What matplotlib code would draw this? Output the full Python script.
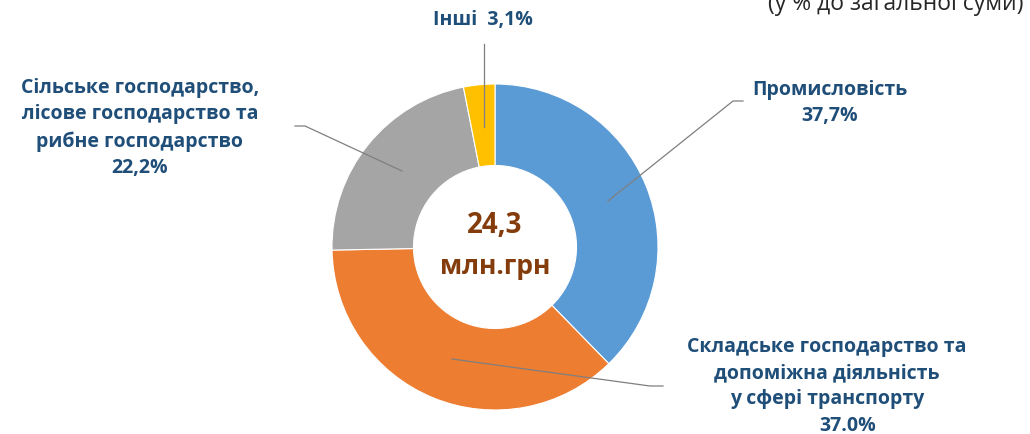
import matplotlib
matplotlib.use('Agg')
import matplotlib.pyplot as plt

# data
sectors = ['Промисловість', 'Складське господарство та\nдопоміжна діяльність\nу сфері транспорту',
           'Сільське господарство,\nлісове господарство та\nрибне господарство', 'Інші']
shares = [37.7, 37.0, 22.2, 3.1]
colors = ['#5B9BD5', '#ED7D31', '#A5A5A5', '#FFC000']

plt.rcParams['font.family'] = ['Open Sans', 'DejaVu Sans']

W, H = 1030, 435
fig = plt.figure(figsize=(W / 100, H / 100), dpi=100)
ax = fig.add_axes([0, 0, 1, 1])

def Y(y):
    # pixel row from top -> data y
    return H - y

cx, cy, r = 495, Y(248), 163
ax.pie(shares, colors=colors, startangle=90, counterclock=False,
       center=(cx, cy), radius=r,
       wedgeprops=dict(width=r * 0.5, edgecolor='white', linewidth=0.8))
ax.set_xlim(0, W)
ax.set_ylim(0, H)
ax.set_aspect('auto')
ax.axis('off')

lab_col = '#1F4E79'
line_col = '#7F7F7F'
fs = 14
ls = 1.42

# centre text
ax.text(cx, Y(226), '24,3', ha='center', va='center', fontsize=20,
        fontweight='bold', color='#843C0C')
ax.text(cx, Y(266), 'млн.грн', ha='center', va='center', fontsize=19,
        fontweight='bold', color='#843C0C')

def pct(v):
    return f'{v:.1f}%'.replace('.', ',')

# labels
ax.text(830, Y(103), f'{sectors[0]}\n{pct(shares[0])}', ha='center', va='center',
        fontsize=fs, fontweight='bold', color=lab_col, linespacing=ls)
ax.text(827, Y(373), sectors[1], ha='center', va='center',
        fontsize=fs, fontweight='bold', color=lab_col, linespacing=ls)
ax.text(848, Y(426), f'{shares[1]:.1f}%', ha='center', va='center',
        fontsize=fs, fontweight='bold', color=lab_col)
ax.text(140, Y(128), f'{sectors[2]}\n{pct(shares[2])}', ha='center', va='center',
        fontsize=fs, fontweight='bold', color=lab_col, linespacing=ls)
ax.text(483, Y(20), f'{sectors[3]}  {pct(shares[3])}', ha='center', va='center',
        fontsize=fs, fontweight='bold', color=lab_col)

# leader lines
ax.plot([484, 484], [Y(45), Y(128)], color=line_col, lw=0.9)
ax.plot([743, 733, 608], [Y(102), Y(102), Y(202)], color=line_col, lw=0.9)
ax.plot([295, 305, 402], [Y(127), Y(127), Y(172)], color=line_col, lw=0.9)
ax.plot([452, 650, 663], [Y(360), Y(387), Y(387)], color=line_col, lw=0.9)

# clipped subtitle
ax.text(896, Y(4), '(у % до загальної суми)', ha='center', va='center',
        fontsize=16.5, color='#262626')

fig.savefig('out.png', dpi=100)
